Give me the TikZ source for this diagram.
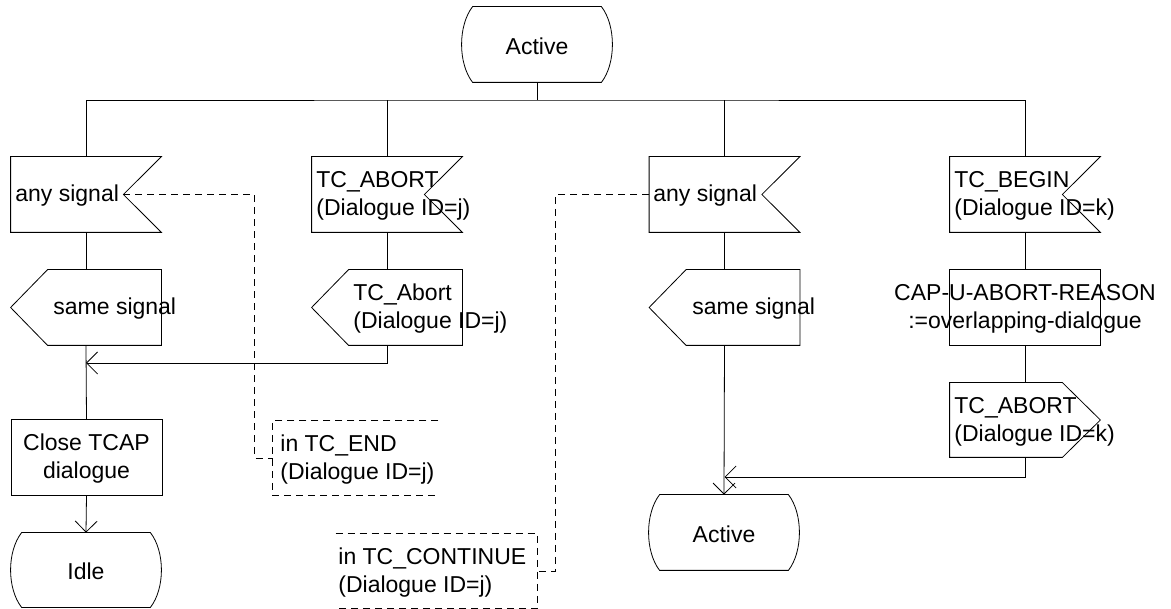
\documentclass[tikz,border=0pt]{standalone}
\usepackage{fontspec}
\setmainfont{Liberation Sans}
\usetikzlibrary{arrows.meta,calc}
\newcommand\sdlinput[1]{\draw (#1.north west) -- (#1.north east) -- ($(#1.east)+(-38,0)$) -- (#1.south east) -- (#1.south west) -- cycle;}
\newcommand\sdloutL[1]{\draw (#1.west) -- ($(#1.north west)+(37,0)$) -- (#1.north east) -- (#1.south east) -- ($(#1.south west)+(37,0)$) -- cycle;}
\newcommand\sdloutR[1]{\draw (#1.north west) -- ($(#1.north east)+(-38,0)$) -- (#1.east) -- ($(#1.south east)+(-38,0)$) -- (#1.south west) -- cycle;}
\newcommand\sdltask[1]{\draw (#1.north west) rectangle (#1.south east);}
\newcommand\sdlstate[1]{\draw ($(#1.north west)+(11,0)$) -- ($(#1.north east)+(-11,0)$) .. controls ($(#1.north east)+(3.7,19)$) and ($(#1.south east)+(3.7,-19)$) .. ($(#1.south east)+(-11,0)$) -- ($(#1.south west)+(11,0)$) .. controls ($(#1.south west)+(-3.7,-19)$) and ($(#1.north west)+(-3.7,19)$) .. cycle;}
\begin{document}
\begin{tikzpicture}[x=1pt,y=-1pt,line width=0.8pt,
  shp/.style={minimum width=150pt,minimum height=75pt,inner sep=0pt,draw=none},
  txt/.style={font=\fontsize{23}{28}\selectfont,inner sep=0pt,align=left,anchor=west,yshift=-1.5pt},
  ctxt/.style={font=\fontsize{23}{28}\selectfont,inner sep=0pt,align=center,yshift=-1.5pt},
  arr/.style={-{Straight Barb[length=11pt,width=22pt]}},
  cmt/.style={dash pattern=on 7pt off 5pt}]
\useasboundingbox (0,0) rectangle (1171,609);
% shape holders
\node[shp] (top) at (537,44.5) {};
\node[shp] (in1) at (86,194.5) {};
\node[shp] (out1) at (86,307.5) {};
\node[shp] (close) at (86.5,457.5) {};
\node[shp,minimum height=74pt] (idle) at (86,570) {};
\node[shp] (in2) at (387,194.5) {};
\node[shp] (out2) at (387,307.5) {};
\node[shp] (in3) at (724.5,194.5) {};
\node[shp] (out3) at (724.5,307.5) {};
\node[shp] (act2) at (724,532.5) {};
\node[shp] (in4) at (1025,194.5) {};
\node[shp] (task) at (1025,307.5) {};
\node[shp,minimum height=74pt] (out4) at (1025,420) {};
\node[shp,minimum width=165pt,minimum height=74pt] (cend) at (355.5,458) {};
\node[shp,minimum width=201pt,minimum height=74pt] (ccont) at (436.5,571) {};
% outlines
\sdlstate{top}
\sdlinput{in1}
\sdloutL{out1}
\sdltask{close}
\sdlstate{idle}
\sdlinput{in2}
\sdloutL{out2}
\sdlinput{in3}
\sdloutL{out3}
\sdlstate{act2}
\sdlinput{in4}
\sdltask{task}
\sdloutR{out4}
\draw[cmt] (cend.north east) -- (cend.north west) -- (cend.south west) -- (cend.south east);
\draw[cmt] (ccont.north west) -- (ccont.north east) -- (ccont.south east) -- (ccont.south west);
% texts
\node[ctxt] (ttop) at (top) {Active};
\node[txt] (tin1) at (15,194.5) {any signal};
\node[txt] (tout1) at (53,307.5) {same signal};
\node[ctxt] (tclose) at (close) {Close TCAP\\dialogue};
\node[ctxt] (tidle) at (idle) {Idle};
\node[txt] (tin2) at (316,194.5) {TC\_ABORT\\(Dialogue ID=j)};
\node[txt] (tout2) at (353,307.5) {TC\_Abort\\(Dialogue ID=j)};
\node[txt] (tin3) at (653,194.5) {any signal};
\node[txt] (tout3) at (692,307.5) {same signal};
\node[ctxt] (tact2) at (act2) {Active};
\node[txt] (tin4) at (954,194.5) {TC\_BEGIN\\(Dialogue ID=k)};
\node[ctxt] (ttask) at (task) {CAP-U-ABORT-REASON\\:=overlapping-dialogue};
\node[txt] (tout4) at (954,420) {TC\_ABORT\\(Dialogue ID=k)};
\node[txt] (tcend) at (280,458) {in TC\_END\\(Dialogue ID=j)};
\node[txt] (tccont) at (338,571) {in TC\_CONTINUE\\(Dialogue ID=j)};
% connectors
\coordinate (b) at (537,100);
\draw (top.south) -- (b);
\draw (in1.north) |- (b) -| (in4.north);
\draw (in2.north) -- (in2.north |- b);
\draw (in3.north) -- (in3.north |- b);
\draw (in1.south) -- (out1.north);
\draw (out1.south) -- (close.north);
\coordinate (m1) at (86,363);
\draw[arr] (out2.south) |- (m1);
\draw[arr] (close.south) -- (idle.north);
\draw (in2.south) -- (out2.north);
\draw (in3.south) -- (out3.north);
\draw[arr] (out3.south) -- (act2.north);
\draw (in4.south) -- (task.north);
\draw (task.south) -- (out4.north);
\coordinate (m3) at (724.5,477);
\draw[arr] (out4.south) |- (m3);
% comment connectors
\coordinate (n1) at ($(in1.east)+(-38,0)$);
\draw[cmt] (n1) -| ($(cend.west)+(-18,0)$) -- (cend.west);
\draw[cmt] (in3.west) -| ($(ccont.east)+(18,0)$) -- (ccont.east);
\end{tikzpicture}
\end{document}
